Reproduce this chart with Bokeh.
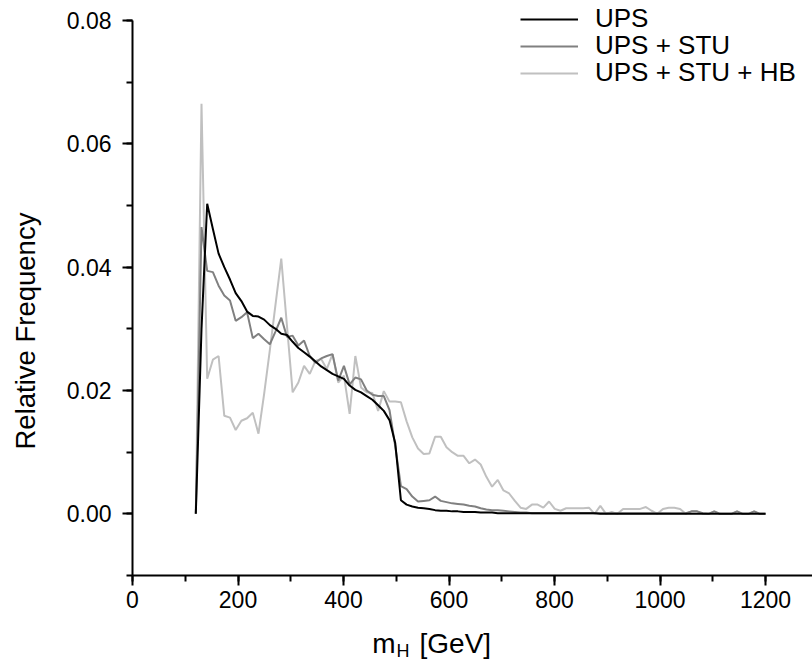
from bokeh.plotting import figure
from bokeh.layouts import column
from bokeh.models import (Range1d, SingleIntervalTicker, PrintfTickFormatter,
                          Legend, LegendItem, Label, Title, LinearAxis, FixedTicker,
                          CustomJSTickFormatter)
from bokeh.embed import file_html
from bokeh.resources import INLINE

# Higgs mass bins [GeV]
mass = [120.0, 130.8, 141.6, 152.4, 163.2, 174.0, 184.8, 195.6, 206.4, 217.2,
        228.0, 238.8, 249.6, 260.4, 271.2, 282.0, 292.8, 303.6, 314.4, 325.2,
        336.0, 346.8, 357.6, 368.4, 379.2, 390.0, 400.8, 411.6, 422.4, 433.2,
        444.0, 454.8, 465.6, 476.4, 487.2, 498.0, 508.8, 519.6, 530.4, 541.2,
        552.0, 562.8, 573.6, 584.4, 595.2, 606.0, 616.8, 627.6, 638.4, 649.2,
        660.0, 670.8, 681.6, 692.4, 703.2, 714.0, 724.8, 735.6, 746.4, 757.2,
        768.0, 778.8, 789.6, 800.4, 811.2, 822.0, 832.8, 843.6, 854.4, 865.2,
        876.0, 886.8, 897.6, 908.4, 919.2, 930.0, 940.8, 951.6, 962.4, 973.2,
        984.0, 994.8, 1005.6, 1016.4, 1027.2, 1038.0, 1048.8, 1059.6, 1070.4, 1081.2,
        1092.0, 1102.8, 1113.6, 1124.4, 1135.2, 1146.0, 1156.8, 1167.6, 1178.4, 1189.2,
        1200.0]

ups = [0.0, 0.030, 0.0503, 0.0462, 0.0422, 0.0400, 0.0380, 0.0358, 0.0345, 0.0328,
       0.0321, 0.0320, 0.0315, 0.0306, 0.0300, 0.0292, 0.0290, 0.0279, 0.0269, 0.0262,
       0.0255, 0.0247, 0.0239, 0.0233, 0.0227, 0.0223, 0.0219, 0.0208, 0.0201, 0.0197,
       0.0191, 0.0185, 0.0176, 0.0167, 0.0152, 0.0115, 0.0022, 0.0015, 0.0012, 0.0010,
       0.0009, 0.0008, 0.0006, 0.0005, 0.0005, 0.0004, 0.0004, 0.0003, 0.0003, 0.0003,
       0.0002, 0.0002, 0.0002, 0.0001, 0.0001, 0.0001, 0.0001, 0.0001, 0.0001, 0.0001,
       0.0001, 0.0001, 0.0001, 0.0001, 0.0001, 0.0001, 0.0001, 0.0001, 0.0001, 0.0001,
       0.0001, 0.0, 0.0, 0.0, 0.0, 0.0, 0.0, 0.0, 0.0, 0.0,
       0.0, 0.0, 0.0, 0.0, 0.0, 0.0, 0.0, 0.0, 0.0, 0.0,
       0.0, 0.0, 0.0, 0.0, 0.0, 0.0, 0.0, 0.0, 0.0, 0.0,
       0.0]

ups_stu = [0.0, 0.0465, 0.0394, 0.0392, 0.0370, 0.0354, 0.0346, 0.0313, 0.0319, 0.0327,
           0.0285, 0.0292, 0.0283, 0.0275, 0.0296, 0.0318, 0.0287, 0.0289, 0.0273, 0.0281,
           0.0256, 0.0245, 0.0252, 0.0256, 0.0259, 0.0216, 0.0240, 0.0210, 0.0221, 0.0218,
           0.0200, 0.0193, 0.0191, 0.0191, 0.0168, 0.0110, 0.0045, 0.0040, 0.0028, 0.0020,
           0.0021, 0.0022, 0.0028, 0.0021, 0.0019, 0.0017, 0.0016, 0.0015, 0.0013, 0.0012,
           0.0009, 0.0007, 0.0006, 0.0006, 0.0005, 0.0004, 0.0003, 0.0002, 0.0002, 0.0001,
           0.0001, 0.0001, 0.0001, 0.0001, 0.0001, 0.0001, 0.0001, 0.0001, 0.0001, 0.0001,
           0.0001, 0.0001, 0.0001, 0.0001, 0.0001, 0.0001, 0.0001, 0.0001, 0.0001, 0.0001,
           0.0001, 0.0001, 0.0001, 0.0001, 0.0001, 0.0001, 0.0001, 0.0004, 0.0004, 0.0001,
           0.0, 0.0004, 0.0, 0.0, 0.0, 0.0004, 0.0, 0.0, 0.0004, 0.0,
           0.0]

ups_stu_hb = [0.0, 0.0665, 0.0219, 0.0250, 0.0256, 0.0159, 0.0156, 0.0136, 0.0151, 0.0155,
              0.0164, 0.0130, 0.0195, 0.0266, 0.0340, 0.0414, 0.0305, 0.0197, 0.0213, 0.0240,
              0.0227, 0.0248, 0.0251, 0.0235, 0.0259, 0.0213, 0.0224, 0.0162, 0.0256, 0.0205,
              0.0197, 0.0196, 0.0167, 0.0199, 0.0182, 0.0182, 0.0181, 0.0150, 0.0124, 0.0106,
              0.0097, 0.0098, 0.0125, 0.0125, 0.0108, 0.0100, 0.0094, 0.0094, 0.0082, 0.0088,
              0.0080, 0.0060, 0.0044, 0.0055, 0.0038, 0.0033, 0.0021, 0.0010, 0.0008, 0.0015,
              0.0015, 0.0010, 0.0020, 0.0008, 0.0005, 0.0009, 0.0009, 0.0009, 0.0009, 0.0010,
              0.0, 0.0013, 0.0, 0.0003, 0.0, 0.0008, 0.0008, 0.0008, 0.0008, 0.0011,
              0.0005, 0.0, 0.0008, 0.0010, 0.0010, 0.0008, 0.0, 0.0004, 0.0004, 0.0,
              0.0, 0.0004, 0.0, 0.0, 0.0, 0.0004, 0.0, 0.0, 0.0004, 0.0,
              0.0]

series_names = ["UPS", "UPS + STU", "UPS + STU + HB"]
series_colors = ["#000000", "#808080", "#c0c0c0"]

FONT = "Liberation Sans"
W = 812
H_MAIN = 618
H_LABEL = 53

# y range reaches a little above 0.08 so the top legend row is not clipped;
# the axis line itself stops at 0.08 via bounds
p = figure(width=W, height=H_MAIN, output_backend="svg", toolbar_location=None,
           x_range=Range1d(0, 1289), y_range=Range1d(-0.01, 0.0826),
           min_border_left=132, min_border_right=0, min_border_top=4,
           min_border_bottom=43)
p.xgrid.visible = False
p.ygrid.visible = False
p.outline_line_color = None
p.background_fill_color = "white"
p.border_fill_color = "white"

r_hb = p.line(mass, ups_stu_hb, color=series_colors[2], line_width=2)
r_stu = p.line(mass, ups_stu, color=series_colors[1], line_width=2)
r_ups = p.line(mass, ups, color=series_colors[0], line_width=2)

for ax in (p.xaxis[0], p.yaxis[0]):
    ax.axis_line_width = 2
    ax.axis_line_color = "black"
    ax.major_tick_line_width = 2
    ax.minor_tick_line_width = 2
    ax.major_tick_line_color = "black"
    ax.minor_tick_line_color = "black"
    ax.major_tick_in = 0
    ax.major_tick_out = 10
    ax.minor_tick_in = 0
    ax.minor_tick_out = 6
    ax.major_label_text_font = FONT
    ax.major_label_text_font_size = "23px"
    ax.major_label_text_color = "black"

p.xaxis.ticker = SingleIntervalTicker(interval=200, num_minor_ticks=2)
p.yaxis.ticker = SingleIntervalTicker(interval=0.02, num_minor_ticks=2)
p.yaxis.formatter = PrintfTickFormatter(format="%.2f")
p.yaxis.bounds = (-0.01, 0.08)
p.xaxis.major_label_standoff = 5
p.yaxis.major_label_standoff = 11

# blank spacer axis (white tick in an empty spot, no label) that pushes the
# y title outwards
spacer = LinearAxis(ticker=FixedTicker(ticks=[-0.005], minor_ticks=[]),
                    formatter=CustomJSTickFormatter(code="return ''"),
                    axis_line_color=None,
                    major_tick_in=0, major_tick_out=18, minor_tick_in=0,
                    minor_tick_out=0, major_label_standoff=0,
                    major_tick_line_color="white", minor_tick_line_color=None,
                    major_label_text_alpha=0, major_label_text_font_size="1px")
p.add_layout(spacer, "left")

# y-axis title as a left-side title so that it can be shifted along the axis
ytitle = Title(text="Relative Frequency", align="left", offset=126,
               text_font=FONT, text_font_size="27.5px", text_font_style="normal",
               text_color="black", standoff=10)
p.add_layout(ytitle, "left")

# one legend per entry so that the row spacing can follow the reference
renderers = [r_ups, r_stu, r_hb]
row_bottoms = [541, 514, 487]
for name, rend, vy in zip(series_names, renderers, row_bottoms):
    lg = Legend(items=[LegendItem(label=name, renderers=[rend])], location=(388, vy))
    lg.border_line_color = None
    lg.background_fill_alpha = 0
    lg.padding = 0
    lg.margin = 0
    lg.spacing = 0
    lg.glyph_width = 58
    lg.glyph_height = 28
    lg.label_height = 28
    lg.label_standoff = 17
    lg.label_text_font = FONT
    lg.label_text_font_size = "26px"
    lg.label_text_color = "black"
    p.add_layout(lg)

# x-axis title "m_H [GeV]" in a strip below the plot
p2 = figure(width=W, height=H_LABEL, output_backend="svg", toolbar_location=None,
            x_range=Range1d(0, W), y_range=Range1d(0, H_LABEL),
            x_axis_type=None, y_axis_type=None, min_border=0)
p2.xgrid.visible = False
p2.ygrid.visible = False
p2.outline_line_color = None
p2.background_fill_color = "white"
p2.border_fill_color = "white"
lab_kw = dict(text_font=FONT, text_color="black", text_baseline="alphabetic",
              x_units="screen")
p2.add_layout(Label(x=263, y=28, text="m", text_align="right",
                    text_font_size="28px", **lab_kw))
p2.add_layout(Label(x=264, y=21, text="H", text_align="left",
                    text_font_size="18px", **lab_kw))
p2.add_layout(Label(x=287, y=28, text="[GeV]", text_align="left",
                    text_font_size="28px", **lab_kw))

layout = column(p, p2, spacing=0)
open("out.html", "w").write(file_html(layout, INLINE))
